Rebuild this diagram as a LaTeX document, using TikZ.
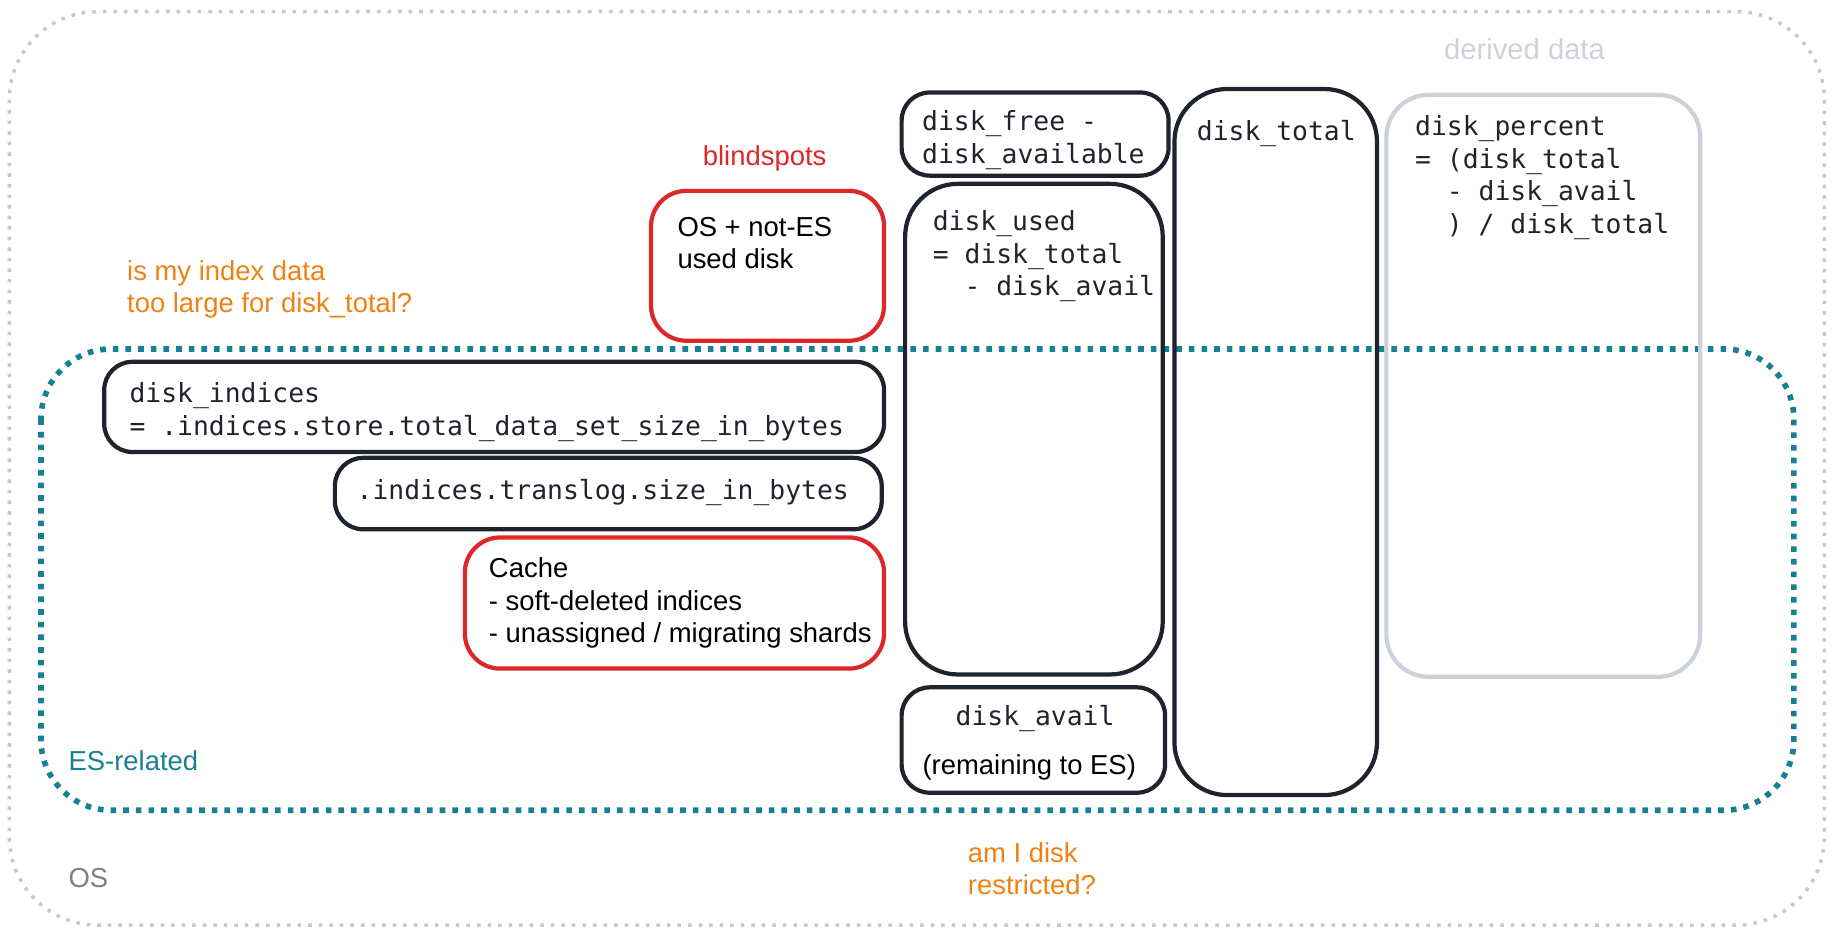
\documentclass[tikz,border=0pt]{standalone}
\usepackage{fontspec}
\setmainfont{Liberation Sans}
\setmonofont{DejaVu Sans Mono}
\usetikzlibrary{positioning}
\definecolor{esteal}{RGB}{24,128,148}
\definecolor{warnorange}{RGB}{240,130,20}
\definecolor{blindred}{RGB}{220,40,40}
\definecolor{osgray}{RGB}{200,200,200}
\definecolor{derivgray}{RGB}{205,210,218}
\definecolor{boxdark}{RGB}{30,35,45}

\begin{document}
\begin{tikzpicture}[
        x=0.01171cm, y=-0.01171cm,
        box/.style={draw=boxdark, line width=1.2pt, rounded corners=8pt},
        redbox/.style={draw=blindred, line width=1.2pt, rounded corners=10pt},
        graybox/.style={draw=derivgray, line width=1.2pt, rounded corners=12pt},
        mono/.style={font=\ttfamily\fontsize{7.5}{9.3}\selectfont, align=left, text=boxdark},
        plain/.style={font=\fontsize{7.8}{9.2}\selectfont, align=left}
        ]
        \useasboundingbox (0,0) rectangle (1568,800);
        % regions
        \draw[osgray, line width=1pt, dotted, rounded corners=25pt] (8,10) rectangle (1558,790);
        \draw[esteal, line width=1.6pt, dotted, rounded corners=20pt] (35,298) rectangle (1532,692);
        \draw[graybox] (1184,81) rectangle (1452,578);

        % boxes
        \draw[redbox] (556,163) rectangle (755,291);
        \draw[box] (89,309) rectangle (755,386);
        \draw[box] (286,391) rectangle (753,452);
        \draw[redbox] (397,459) rectangle (755,571);
        \draw[box] (770,79) rectangle (998,150);
        \draw[box, rounded corners=15pt] (773,157) rectangle (993,576);
        \draw[box] (770,587) rectangle (995,677);
        \draw[box, rounded corners=15pt] (1003,76) rectangle (1176,679);

        % texts
        \node[plain, text=derivgray, font=\fontsize{8.3}{10}\selectfont] (derived) at (1302,42) {derived data};
        \node[plain, text=blindred] (blind) at (653,135) {blindspots};
        \node[plain, anchor=north west] (osnot) at (568,175) {OS + not-ES\\used disk};
        \node[plain, text=warnorange, anchor=north west] (toolarge) at (98,212) {is my index data\\too large for disk\_total?};
        \node[mono, anchor=north west] (indices) at (100,316) {disk\_indices\\= .indices.store.total\_data\_set\_size\_in\_bytes};
        \node[mono, anchor=west] (translog) at (294,421) {.indices.translog.size\_in\_bytes};
        \node[plain, anchor=north west] (cache) at (407,466) {Cache\\- soft-deleted indices\\- unassigned / migrating shards};
        \node[mono, anchor=north west] (free) at (777,84) {disk\_free -\\disk\_available};
        \node[mono, anchor=north west] (used) at (786,169) {disk\_used\\= disk\_total\\\ \ - disk\_avail};
        \node[mono] (avail) at (884,614) {disk\_avail};
        \node[plain] (remain) at (879,655) {(remaining to ES)};
        \node[mono] (total) at (1090,114) {disk\_total};
        \node[mono, anchor=north west] (percent) at (1198,88) {disk\_percent\\= (disk\_total\\\ \ - disk\_avail\\\ \ ) / disk\_total};
        \node[plain, text=esteal, anchor=west] (esrel) at (48,650) {ES-related};
        \node[plain, text=gray, anchor=west] (os) at (48,750) {OS};
        \node[plain, text=warnorange, anchor=north west] (restricted) at (816,709) {am I disk\\restricted?};
\end{tikzpicture}
\end{document}
